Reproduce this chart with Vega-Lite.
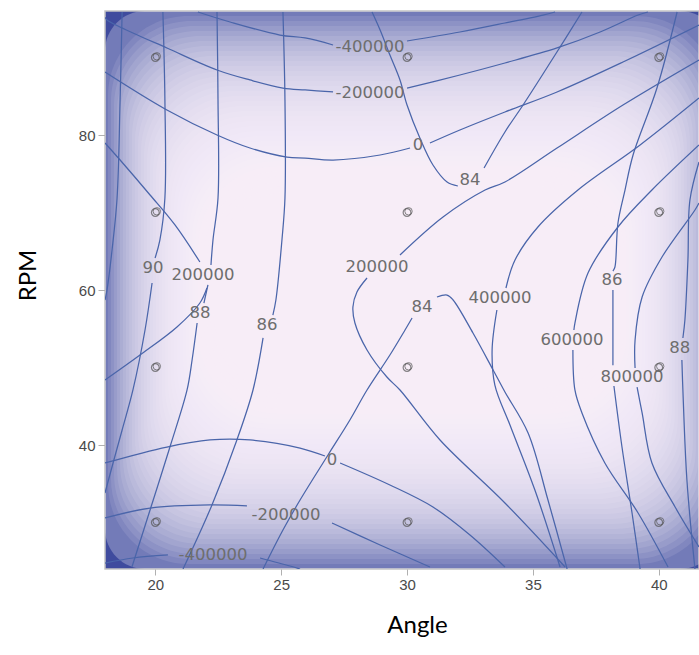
{
"$schema": "https://vega.github.io/schema/vega-lite/v6.json",
"width": 594, "height": 558,
"autosize": {"type": "none"},
"padding": {"left": 105, "top": 11, "right": 0, "bottom": 86},
"background": "white",
"config": {"view": {"fill": "#3f4b9e", "stroke": "#c4c4c4", "strokeWidth": 1.5}},
"datasets": {
"frame": [{"x": 18.0, "x2": 42.43, "y": 24.0, "y2": 96.0}],
"vig": [
{"x":18.119,"x2":42.311,"y":24.645,"y2":95.355},
{"x":18.238,"x2":42.192,"y":25.290,"y2":94.710},
{"x":18.358,"x2":42.072,"y":25.936,"y2":94.064},
{"x":18.477,"x2":41.953,"y":26.581,"y2":93.419},
{"x":18.596,"x2":41.834,"y":27.226,"y2":92.774},
{"x":18.715,"x2":41.715,"y":27.871,"y2":92.129},
{"x":18.834,"x2":41.596,"y":28.516,"y2":91.484},
{"x":18.954,"x2":41.476,"y":29.162,"y2":90.838},
{"x":19.073,"x2":41.357,"y":29.807,"y2":90.193},
{"x":19.192,"x2":41.238,"y":30.452,"y2":89.548},
{"x":19.311,"x2":41.119,"y":31.097,"y2":88.903},
{"x":19.430,"x2":41.000,"y":31.742,"y2":88.258},
{"x":19.550,"x2":40.880,"y":32.388,"y2":87.612},
{"x":19.669,"x2":40.761,"y":33.033,"y2":86.967},
{"x":19.788,"x2":40.642,"y":33.678,"y2":86.322},
{"x":19.907,"x2":40.523,"y":34.323,"y2":85.677},
{"x":20.026,"x2":40.404,"y":34.968,"y2":85.032},
{"x":20.146,"x2":40.284,"y":35.614,"y2":84.386},
{"x":20.265,"x2":40.165,"y":36.259,"y2":83.741},
{"x":20.384,"x2":40.046,"y":36.904,"y2":83.096},
{"x":20.503,"x2":39.927,"y":37.549,"y2":82.451},
{"x":20.622,"x2":39.808,"y":38.194,"y2":81.806},
{"x":20.742,"x2":39.688,"y":38.840,"y2":81.160},
{"x":20.861,"x2":39.569,"y":39.485,"y2":80.515},
{"x":20.980,"x2":39.450,"y":40.130,"y2":79.870},
{"x":21.099,"x2":39.331,"y":40.775,"y2":79.225},
{"x":21.218,"x2":39.212,"y":41.420,"y2":78.580},
{"x":21.338,"x2":39.092,"y":42.066,"y2":77.934},
{"x":21.457,"x2":38.973,"y":42.711,"y2":77.289},
{"x":21.576,"x2":38.854,"y":43.356,"y2":76.644},
{"x":21.695,"x2":38.735,"y":44.001,"y2":75.999},
{"x":21.814,"x2":38.616,"y":44.646,"y2":75.354},
{"x":21.933,"x2":38.497,"y":45.291,"y2":74.709},
{"x":22.053,"x2":38.377,"y":45.936,"y2":74.064},
{"x":22.172,"x2":38.258,"y":46.582,"y2":73.418},
{"x":22.291,"x2":38.139,"y":47.227,"y2":72.773}
],
"lines": [
{"k":"a1","o":1,"x":21.69,"y":95.87},{"k":"a1","o":2,"x":22.97,"y":94.58},{"k":"a1","o":3,"x":24.95,"y":92.9},{"k":"a1","o":4,"x":25.95,"y":92.52},{"k":"a1","o":5,"x":27.06,"y":91.61},
{"k":"a2","o":1,"x":30.0,"y":92.13},{"k":"a2","o":2,"x":32.1,"y":93.29},{"k":"a2","o":3,"x":33.89,"y":94.45},{"k":"a2","o":4,"x":35.4,"y":95.48},{"k":"a2","o":5,"x":35.88,"y":95.87},
{"k":"b1","o":1,"x":18.0,"y":95.2},{"k":"b1","o":2,"x":18.08,"y":94.84},{"k":"b1","o":3,"x":19.11,"y":93.16},{"k":"b1","o":4,"x":20.46,"y":91.23},{"k":"b1","o":5,"x":22.45,"y":88.39},{"k":"b1","o":6,"x":23.76,"y":87.1},{"k":"b1","o":7,"x":25.07,"y":86.06},{"k":"b1","o":8,"x":25.95,"y":85.81},{"k":"b1","o":9,"x":27.06,"y":85.55},
{"k":"b2","o":1,"x":30.0,"y":86.06},{"k":"b2","o":2,"x":32.1,"y":87.74},{"k":"b2","o":3,"x":33.89,"y":89.29},{"k":"b2","o":4,"x":35.96,"y":91.23},{"k":"b2","o":5,"x":37.67,"y":93.29},{"k":"b2","o":6,"x":39.18,"y":95.48},{"k":"b2","o":7,"x":39.57,"y":95.87},
{"k":"c1","o":1,"x":18.0,"y":88.13},{"k":"c1","o":2,"x":20.46,"y":83.23},{"k":"c1","o":3,"x":22.45,"y":80.0},{"k":"c1","o":4,"x":23.76,"y":78.32},{"k":"c1","o":5,"x":25.23,"y":77.16},{"k":"c1","o":6,"x":25.95,"y":77.03},{"k":"c1","o":7,"x":27.06,"y":76.77},{"k":"c1","o":8,"x":28.93,"y":77.42},{"k":"c1","o":9,"x":30.12,"y":78.32},
{"k":"c2","o":1,"x":30.91,"y":78.97},{"k":"c2","o":2,"x":32.1,"y":80.65},{"k":"c2","o":3,"x":33.89,"y":82.97},{"k":"c2","o":4,"x":35.96,"y":85.55},{"k":"c2","o":5,"x":38.58,"y":89.42},{"k":"c2","o":6,"x":41.6,"y":94.19},
{"k":"d1","o":1,"x":18.0,"y":78.97},{"k":"d1","o":2,"x":18.6,"y":76.77},{"k":"d1","o":3,"x":19.79,"y":72.26},{"k":"d1","o":4,"x":20.78,"y":68.39},{"k":"d1","o":5,"x":21.77,"y":63.61},
{"k":"d2","o":1,"x":22.05,"y":60.26},{"k":"d2","o":2,"x":21.77,"y":58.32},{"k":"d2","o":3,"x":20.86,"y":55.23},{"k":"d2","o":4,"x":19.39,"y":51.61},{"k":"d2","o":5,"x":18.0,"y":48.39},
{"k":"e1","o":1,"x":41.6,"y":89.68},{"k":"e1","o":2,"x":38.58,"y":83.87},{"k":"e1","o":3,"x":35.96,"y":78.32},{"k":"e1","o":4,"x":33.89,"y":73.94},{"k":"e1","o":5,"x":33.1,"y":72.9},{"k":"e1","o":6,"x":31.43,"y":69.42},{"k":"e1","o":7,"x":29.72,"y":64.52},
{"k":"e2","o":1,"x":28.41,"y":61.55},{"k":"e2","o":2,"x":28.01,"y":59.74},{"k":"e2","o":3,"x":27.85,"y":57.81},{"k":"e2","o":4,"x":27.93,"y":55.74},{"k":"e2","o":5,"x":28.41,"y":52.26},{"k":"e2","o":6,"x":29.2,"y":48.77},{"k":"e2","o":7,"x":29.72,"y":47.1},{"k":"e2","o":8,"x":31.31,"y":40.65},{"k":"e2","o":9,"x":33.89,"y":32.52},{"k":"e2","o":10,"x":36.28,"y":24.26},
{"k":"f1","o":1,"x":41.6,"y":84.77},{"k":"f1","o":2,"x":39.26,"y":78.71},{"k":"f1","o":3,"x":36.79,"y":72.9},{"k":"f1","o":4,"x":35.2,"y":68.13},{"k":"f1","o":5,"x":34.29,"y":63.87},{"k":"f1","o":6,"x":33.93,"y":60.26},
{"k":"f2","o":1,"x":33.57,"y":57.42},{"k":"f2","o":2,"x":33.38,"y":52.26},{"k":"f2","o":3,"x":33.49,"y":47.74},{"k":"f2","o":4,"x":34.09,"y":42.58},{"k":"f2","o":5,"x":35.08,"y":34.19},{"k":"f2","o":6,"x":36.08,"y":24.26},
{"k":"g1","o":1,"x":41.6,"y":78.71},{"k":"g1","o":2,"x":39.73,"y":72.9},{"k":"g1","o":3,"x":38.38,"y":68.13},{"k":"g1","o":4,"x":37.19,"y":62.19},{"k":"g1","o":5,"x":36.67,"y":55.74},{"k":"g1","o":6,"x":36.63,"y":54.84},
{"k":"g2","o":1,"x":36.59,"y":52.26},{"k":"g2","o":2,"x":36.67,"y":47.1},{"k":"g2","o":3,"x":36.95,"y":44.13},{"k":"g2","o":4,"x":37.86,"y":37.68},{"k":"g2","o":5,"x":39.18,"y":31.23},{"k":"g2","o":6,"x":40.37,"y":24.26},
{"k":"h1","o":1,"x":41.6,"y":71.23},{"k":"h1","o":2,"x":41.44,"y":70.32},{"k":"h1","o":3,"x":40.13,"y":64.26},{"k":"h1","o":4,"x":39.34,"y":59.1},{"k":"h1","o":5,"x":39.06,"y":53.55},{"k":"h1","o":6,"x":39.06,"y":49.94},
{"k":"h2","o":1,"x":39.14,"y":47.48},{"k":"h2","o":2,"x":39.34,"y":44.13},{"k":"h2","o":3,"x":39.73,"y":37.68},{"k":"h2","o":4,"x":40.65,"y":32.0},{"k":"h2","o":5,"x":41.6,"y":26.84},
{"k":"i1","o":1,"x":18.0,"y":37.68},{"k":"i1","o":2,"x":20.46,"y":39.74},{"k":"i1","o":3,"x":22.17,"y":40.65},{"k":"i1","o":4,"x":23.76,"y":40.65},{"k":"i1","o":5,"x":25.75,"y":39.61},{"k":"i1","o":6,"x":26.74,"y":38.58},
{"k":"i2","o":1,"x":27.34,"y":37.68},{"k":"i2","o":2,"x":29.32,"y":34.84},{"k":"i2","o":3,"x":31.03,"y":32.0},{"k":"i2","o":4,"x":32.5,"y":28.39},{"k":"i2","o":5,"x":33.89,"y":24.26},
{"k":"j1","o":1,"x":18.0,"y":30.58},{"k":"j1","o":2,"x":19.79,"y":31.87},{"k":"j1","o":3,"x":22.17,"y":32.26},{"k":"j1","o":4,"x":23.64,"y":32.13},
{"k":"j2","o":1,"x":27.02,"y":29.94},{"k":"j2","o":2,"x":28.93,"y":27.1},{"k":"j2","o":3,"x":30.91,"y":24.26},
{"k":"k1","o":1,"x":18.0,"y":24.77},{"k":"k1","o":2,"x":19.11,"y":25.42},{"k":"k1","o":3,"x":20.5,"y":25.81},
{"k":"k2","o":1,"x":24.16,"y":25.42},{"k":"k2","o":2,"x":25.35,"y":24.39},{"k":"k2","o":3,"x":25.75,"y":24.0},
{"k":"l1","o":1,"x":18.68,"y":95.87},{"k":"l1","o":2,"x":18.6,"y":84.52},{"k":"l1","o":3,"x":18.48,"y":71.87},{"k":"l1","o":4,"x":18.28,"y":65.16},{"k":"l1","o":5,"x":18.08,"y":60.0},{"k":"l1","o":6,"x":18.0,"y":58.71},
{"k":"m1","o":1,"x":20.3,"y":95.87},{"k":"m1","o":2,"x":20.38,"y":84.52},{"k":"m1","o":3,"x":20.38,"y":71.87},{"k":"m1","o":4,"x":20.18,"y":66.45},{"k":"m1","o":5,"x":19.99,"y":64.13},
{"k":"m2","o":1,"x":19.87,"y":60.9},{"k":"m2","o":2,"x":19.59,"y":54.84},{"k":"m2","o":3,"x":19.11,"y":47.1},{"k":"m2","o":4,"x":18.68,"y":41.94},{"k":"m2","o":5,"x":18.32,"y":37.68},{"k":"m2","o":6,"x":18.0,"y":33.81},
{"k":"n1","o":1,"x":22.45,"y":95.87},{"k":"n1","o":2,"x":22.49,"y":84.52},{"k":"n1","o":3,"x":22.49,"y":71.87},{"k":"n1","o":4,"x":22.29,"y":66.45},{"k":"n1","o":5,"x":22.21,"y":63.23},
{"k":"n2","o":1,"x":22.09,"y":60.65},{"k":"n2","o":2,"x":21.93,"y":58.32},
{"k":"n3","o":1,"x":21.66,"y":55.74},{"k":"n3","o":2,"x":21.46,"y":50.97},{"k":"n3","o":3,"x":21.26,"y":47.1},{"k":"n3","o":4,"x":20.58,"y":39.74},{"k":"n3","o":5,"x":19.79,"y":31.61},{"k":"n3","o":6,"x":19.07,"y":24.26},
{"k":"o1","o":1,"x":25.07,"y":95.87},{"k":"o1","o":2,"x":25.15,"y":84.52},{"k":"o1","o":3,"x":25.15,"y":71.87},{"k":"o1","o":4,"x":25.03,"y":66.45},{"k":"o1","o":5,"x":24.79,"y":58.71},{"k":"o1","o":6,"x":24.67,"y":56.77},
{"k":"o2","o":1,"x":24.28,"y":53.81},{"k":"o2","o":2,"x":23.88,"y":47.1},{"k":"o2","o":3,"x":23.24,"y":40.65},{"k":"o2","o":4,"x":22.25,"y":32.26},{"k":"o2","o":5,"x":21.1,"y":24.0},
{"k":"p1","o":1,"x":28.61,"y":95.87},{"k":"p1","o":2,"x":28.93,"y":93.55},{"k":"p1","o":3,"x":29.32,"y":90.32},{"k":"p1","o":4,"x":29.72,"y":87.1},{"k":"p1","o":5,"x":30.0,"y":83.87},{"k":"p1","o":6,"x":30.51,"y":79.61},{"k":"p1","o":7,"x":31.03,"y":76.13},{"k":"p1","o":8,"x":31.59,"y":73.94},{"k":"p1","o":9,"x":32.02,"y":73.42},
{"k":"p2","o":1,"x":33.06,"y":75.74},{"k":"p2","o":2,"x":33.89,"y":80.39},{"k":"p2","o":3,"x":34.61,"y":83.87},{"k":"p2","o":4,"x":35.88,"y":90.32},{"k":"p2","o":5,"x":36.95,"y":95.87},
{"k":"q1","o":1,"x":24.28,"y":24.0},{"k":"q1","o":2,"x":25.07,"y":29.03},{"k":"q1","o":3,"x":25.75,"y":32.9},{"k":"q1","o":4,"x":26.86,"y":38.71},{"k":"q1","o":5,"x":27.73,"y":43.23},{"k":"q1","o":6,"x":28.41,"y":47.1},{"k":"q1","o":7,"x":29.32,"y":51.61},{"k":"q1","o":8,"x":29.92,"y":54.84},{"k":"q1","o":9,"x":30.2,"y":56.39},
{"k":"q2","o":1,"x":31.19,"y":59.1},{"k":"q2","o":2,"x":31.59,"y":59.35},{"k":"q2","o":3,"x":31.83,"y":58.71},{"k":"q2","o":4,"x":32.62,"y":54.45},{"k":"q2","o":5,"x":33.42,"y":49.68},{"k":"q2","o":6,"x":33.89,"y":46.84},{"k":"q2","o":7,"x":34.81,"y":41.55},{"k":"q2","o":8,"x":35.6,"y":32.9},{"k":"q2","o":9,"x":36.36,"y":24.0},
{"k":"r1","o":1,"x":40.73,"y":95.87},{"k":"r1","o":2,"x":39.93,"y":86.06},{"k":"r1","o":3,"x":38.98,"y":77.42},{"k":"r1","o":4,"x":38.66,"y":72.9},{"k":"r1","o":5,"x":38.38,"y":68.65},{"k":"r1","o":6,"x":38.26,"y":62.97},{"k":"r1","o":7,"x":38.18,"y":62.45},
{"k":"r2","o":1,"x":38.18,"y":60.0},{"k":"r2","o":2,"x":38.18,"y":50.3},
{"k":"r3","o":1,"x":38.22,"y":47.61},{"k":"r3","o":2,"x":38.54,"y":39.74},{"k":"r3","o":3,"x":38.94,"y":31.23},{"k":"r3","o":4,"x":39.26,"y":24.0},
{"k":"s1","o":1,"x":41.6,"y":76.52},{"k":"s1","o":2,"x":41.24,"y":71.61},{"k":"s1","o":3,"x":41.16,"y":63.87},{"k":"s1","o":4,"x":41.04,"y":56.13},{"k":"s1","o":5,"x":40.96,"y":53.81},
{"k":"s2","o":1,"x":40.92,"y":50.97},{"k":"s2","o":2,"x":40.96,"y":47.1},{"k":"s2","o":3,"x":41.12,"y":35.48},{"k":"s2","o":4,"x":41.44,"y":24.0}
],
"labels": [
{"t":"-400000","x":28.53,"y":91.35},
{"t":"-200000","x":28.53,"y":85.42},
{"t":"0","x":30.44,"y":78.71},
{"t":"84","x":32.5,"y":74.19},
{"t":"90","x":19.91,"y":62.84},
{"t":"200000","x":21.89,"y":61.94},
{"t":"88","x":21.77,"y":57.03},
{"t":"86","x":24.44,"y":55.48},
{"t":"200000","x":28.81,"y":62.97},
{"t":"84","x":30.59,"y":57.81},
{"t":"400000","x":33.69,"y":58.97},
{"t":"86","x":38.14,"y":61.29},
{"t":"600000","x":36.55,"y":53.55},
{"t":"88","x":40.84,"y":52.52},
{"t":"800000","x":38.94,"y":48.77},
{"t":"0","x":27.02,"y":38.06},
{"t":"-200000","x":25.19,"y":30.97},
{"t":"-400000","x":22.29,"y":25.81}
],
"pts": [
{"x":20,"y":90},{"x":30,"y":90},{"x":40,"y":90},
{"x":20,"y":70},{"x":30,"y":70},{"x":40,"y":70},
{"x":20,"y":50},{"x":30,"y":50},{"x":40,"y":50},
{"x":20,"y":30},{"x":30,"y":30},{"x":40,"y":30}
]
},
"encoding": {
"x": {"field": "x", "type": "quantitative", "scale": {"domain": [18, 41.6], "nice": false, "zero": false},
 "axis": {"values": [20, 25, 30, 35, 40], "title": "Angle", "grid": false, "domain": false, "tickColor": "#b0b0b0", "tickSize": 6, "labelColor": "#4a4a4a", "labelFont": "Liberation Sans", "labelFontSize": 15, "labelPadding": 2, "titleFont": "Lato", "titleFontSize": 24, "titleFontWeight": "normal", "titleColor": "#000000", "titleX": 312, "titleY": 56, "titleBaseline": "middle", "titleAlign": "center"}},
"y": {"field": "y", "type": "quantitative", "scale": {"domain": [24, 96], "nice": false, "zero": false},
 "axis": {"values": [40, 60, 80], "title": "RPM", "grid": false, "domain": false, "tickColor": "#b0b0b0", "tickSize": 7, "labelColor": "#4a4a4a", "labelFont": "Liberation Sans", "labelFontSize": 15, "labelPadding": 3, "titleFont": "Lato", "titleFontSize": 24, "titleFontWeight": "normal", "titleColor": "#000000", "titleX": -77, "titleY": 264, "titleAngle": 270, "titleBaseline": "middle", "titleAlign": "center"}}
},
"layer": [
{"data": {"name": "frame"}, "mark": {"type": "rect", "fill": "#fdf9fb", "fillOpacity": 0.28, "cornerRadius": 40, "clip": true},
 "encoding": {"x2": {"field": "x2"}, "y2": {"field": "y2"}}},
{"data": {"name": "vig"}, "mark": {"type": "rect", "fill": "#fdf9fb", "fillOpacity": 0.1, "cornerRadius": 80, "clip": true},
 "encoding": {"x2": {"field": "x2"}, "y2": {"field": "y2"}}},
{"data": {"name": "lines"}, "mark": {"type": "line", "stroke": "#4a65aa", "strokeWidth": 1.25, "interpolate": "catmull-rom", "clip": true},
 "encoding": {"detail": {"field": "k"}, "order": {"field": "o", "type": "quantitative"}}},
{"data": {"name": "labels"}, "mark": {"type": "text", "font": "DejaVu Sans", "fontSize": 16.5, "fill": "#6e6e6e", "align": "center", "baseline": "middle"},
 "encoding": {"text": {"field": "t"}}},
{"data": {"name": "pts"}, "mark": {"type": "point", "shape": "circle", "filled": false, "size": 60, "stroke": "#555555", "strokeWidth": 1.2}},
{"data": {"name": "pts"}, "mark": {"type": "point", "shape": "circle", "filled": false, "size": 55, "stroke": "#555555", "strokeWidth": 1.0, "xOffset": 1.5, "yOffset": -1.2}}
]
}
